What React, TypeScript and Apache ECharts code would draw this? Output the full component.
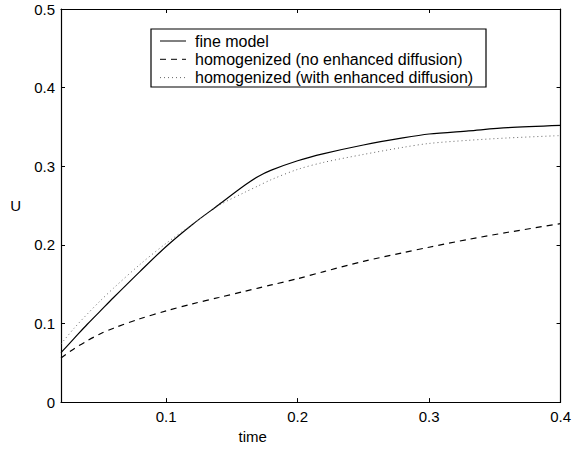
import React, { useEffect, useRef } from "react";
import * as echarts from "echarts";

const times = [0.02, 0.03, 0.04, 0.05, 0.06, 0.08, 0.1, 0.12, 0.14, 0.16, 0.17, 0.18, 0.2, 0.22, 0.25, 0.28, 0.3, 0.33, 0.36, 0.4];
const fineModel = [0.063, 0.081, 0.099, 0.116, 0.133, 0.166, 0.198, 0.226, 0.251, 0.276, 0.287, 0.295, 0.307, 0.316, 0.327, 0.336, 0.341, 0.345, 0.349, 0.352];
const homNoEnh = [0.056, 0.068, 0.078, 0.087, 0.094, 0.106, 0.116, 0.125, 0.133, 0.141, 0.145, 0.149, 0.157, 0.166, 0.179, 0.190, 0.197, 0.207, 0.216, 0.227];
const homWithEnh = [0.074, 0.094, 0.112, 0.129, 0.145, 0.175, 0.202, 0.226, 0.250, 0.267, 0.275, 0.283, 0.296, 0.305, 0.315, 0.324, 0.329, 0.333, 0.336, 0.339];
const xTicks = [0.1, 0.2, 0.3, 0.4];
const legendLabels = ["fine model", "homogenized (no enhanced diffusion)", "homogenized (with enhanced diffusion)"];

const font = "'Liberation Sans', Arial, Helvetica, sans-serif";

export default function App() {
  const ref = useRef<HTMLDivElement>(null);
  useEffect(() => {
    if (!ref.current) return;
    const chart = echarts.init(ref.current, undefined, { renderer: "svg" });
    const pair = (ys: number[]) => times.map((t, i) => [t, ys[i]]);
    const axisCommon = {
      type: "value" as const,
      axisLine: { show: true, onZero: false, lineStyle: { color: "#000", width: 1.2 } },
      axisTick: { show: true, inside: true, length: 4, lineStyle: { color: "#000" } },
      splitLine: { show: false },
    };
    const legendX = 151;
    const legendY = 29;
    const rowH = 18.3;
    const graphics: any[] = [
      {
        type: "rect",
        shape: { x: legendX, y: legendY, width: 335, height: 58 },
        style: { fill: "#fff", stroke: "#000", lineWidth: 1.2 },
        z: 100,
      },
    ];
    const dashes: any[] = [null, [6, 5], [1, 3]];
    const colors = ["#000", "#000", "#666"];
    legendLabels.forEach((lab, i) => {
      const cy = legendY + 12 + i * rowH;
      graphics.push({
        type: "line",
        shape: { x1: 160, y1: cy, x2: 186, y2: cy },
        style: { stroke: colors[i], lineWidth: 1, lineDash: dashes[i] || undefined },
        z: 101,
      });
      graphics.push({
        type: "text",
        x: 195,
        y: cy,
        style: { text: lab, fontSize: 16, fontFamily: font, fill: "#000", verticalAlign: "middle" },
        z: 101,
      });
    });
    chart.setOption({
      animation: false,
      grid: { left: 61, top: 9, right: 11, bottom: 45 },
      xAxis: [
        {
          ...axisCommon,
          position: "bottom",
          min: 0.02,
          max: 0.4,
          name: "time",
          nameLocation: "middle",
          nameGap: 24,
          nameTextStyle: { fontFamily: font, fontSize: 15, color: "#000", padding: [0, 116, 0, 0] },
          axisLabel: {
            fontFamily: font,
            fontSize: 15,
            color: "#000",
            margin: 7,
            customValues: xTicks,
            formatter: (v: number) => String(Math.round(v * 10) / 10),
          },
          axisTick: { show: true, inside: true, length: 4, lineStyle: { color: "#000" }, customValues: xTicks },
        },
        {
          ...axisCommon,
          position: "top",
          min: 0.02,
          max: 0.4,
          axisLabel: { show: false },
          axisTick: { show: true, inside: true, length: 4, lineStyle: { color: "#000" }, customValues: xTicks },
        },
      ],
      yAxis: [
        {
          ...axisCommon,
          position: "left",
          min: 0,
          max: 0.5,
          interval: 0.1,
          name: "U",
          nameLocation: "middle",
          nameGap: 40,
          nameRotate: 0,
          nameTextStyle: { fontFamily: font, fontSize: 15, color: "#000" },
          axisLabel: {
            fontFamily: font,
            fontSize: 15,
            color: "#000",
            margin: 6,
            formatter: (v: number) => (v === 0 ? "0" : String(Math.round(v * 10) / 10)),
          },
        },
        {
          ...axisCommon,
          position: "right",
          min: 0,
          max: 0.5,
          interval: 0.1,
          axisLabel: { show: false },
        },
      ],
      series: [
        {
          type: "line",
          data: pair(fineModel),
          smooth: 0.3,
          showSymbol: false,
          lineStyle: { color: "#000", width: 1.2, type: "solid" },
        },
        {
          type: "line",
          data: pair(homNoEnh),
          smooth: 0.3,
          showSymbol: false,
          lineStyle: { color: "#000", width: 1.2, type: [6, 5] },
        },
        {
          type: "line",
          data: pair(homWithEnh),
          smooth: 0.3,
          showSymbol: false,
          lineStyle: { color: "#666", width: 1, type: [1, 3] },
        },
      ],
      graphic: graphics,
    });
    return () => chart.dispose();
  }, []);
  return <div ref={ref} style={{ width: 574, height: 449, position: "absolute", left: 0, top: 0, background: "#fff" }} />;
}
